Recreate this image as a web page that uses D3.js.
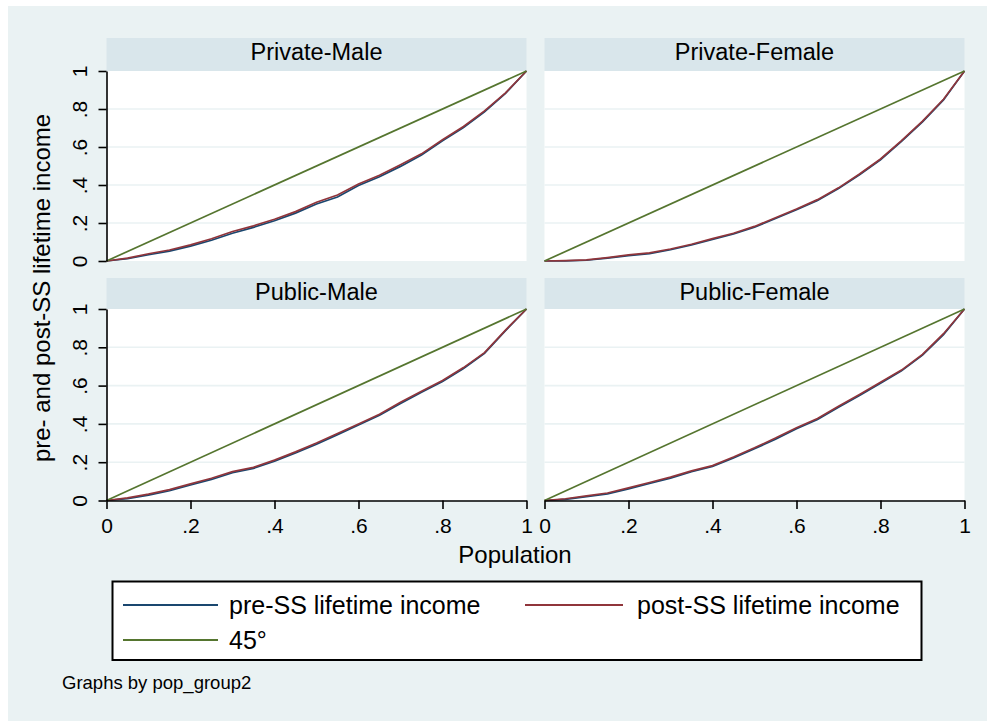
<!DOCTYPE html>
<html>
<head>
<meta charset="utf-8">
<script src="https://cdn.jsdelivr.net/npm/d3@7"></script>
<style>
  body { margin: 0; background: #fff; }
  svg { display: block; font-family: "Liberation Sans", Arial, sans-serif; }
</style>
</head>
<body>
<div id="chart"></div>
<script>
// cumulative population share (x) and income shares
var popShare = [0, .05, .1, .15, .2, .25, .3, .35, .4, .45, .5, .55, .6, .65, .7, .75, .8, .85, .9, .95, 1];

var privMalePre    = [0, .012, .033, .052, .078, .109, .146, .177, .212, .252, .300, .337, .397, .443, .498, .558, .633, .702, .785, .882, 1];
var privMalePost   = [0, .015, .038, .058, .085, .117, .155, .185, .220, .260, .309, .347, .405, .451, .507, .564, .638, .708, .790, .885, 1];
var privFemalePre  = [0, .001, .004, .015, .028, .039, .059, .084, .114, .142, .178, .224, .270, .319, .381, .454, .533, .630, .732, .848, 1];
var privFemalePost = [0, .002, .006, .018, .032, .043, .063, .088, .118, .146, .182, .228, .274, .323, .385, .458, .537, .634, .736, .851, 1];
var pubMalePre     = [0, .010, .028, .051, .081, .110, .145, .168, .205, .248, .294, .344, .394, .445, .507, .565, .622, .689, .768, .887, 1];
var pubMalePost    = [0, .014, .033, .057, .087, .116, .151, .173, .211, .254, .300, .350, .400, .450, .513, .570, .627, .694, .772, .890, 1];
var pubFemalePre   = [0, .006, .020, .035, .061, .089, .117, .150, .178, .222, .270, .320, .375, .423, .487, .548, .612, .677, .759, .866, 1];
var pubFemalePost  = [0, .009, .024, .039, .066, .094, .122, .155, .182, .227, .275, .326, .380, .428, .492, .553, .617, .681, .763, .871, 1];

var diagX = [0, 1];
var diagY = [0, 1];

var groups = ["Private-Male", "Private-Female", "Public-Male", "Public-Female"];
var preSeries = [privMalePre, privFemalePre, pubMalePre, pubFemalePre];
var postSeries = [privMalePost, privFemalePost, pubMalePost, pubFemalePost];

var yTicks = [0, .2, .4, .6, .8, 1];
var gridTicks = [.2, .4, .6, .8];

var legendLabels = ["pre-SS lifetime income", "post-SS lifetime income", "45\u00b0"];
var yTitle = "pre- and post-SS lifetime income";
var xTitle = "Population";
var note = "Graphs by pop_group2";

var w = 987, h = 721;
var colPre = "#1a476f", colPost = "#90353b", colDiag = "#55752f";
var bg = "#eaf2f3", strip = "#d9e6eb";

var cols = [[106.5, 526.5], [544.5, 964.5]];
var rows = [{head: 38, top: 71, bottom: 261}, {head: 278, top: 309, bottom: 500.5}];

function stataFmt(d) {
  if (d === 0) return "0";
  if (d === 1) return "1";
  return String(d).replace(/^0/, "");
}

var svg = d3.select("#chart").append("svg")
  .attr("width", w)
  .attr("height", h);

svg.append("rect")
  .attr("x", 8).attr("y", 6)
  .attr("width", w - 8).attr("height", h - 6)
  .attr("fill", bg);

groups.forEach(function(name, i) {
  var r = rows[Math.floor(i / 2)], c = cols[i % 2];
  var x = d3.scaleLinear().domain([0, 1]).range(c);
  var y = d3.scaleLinear().domain([0, 1]).range([r.bottom, r.top]);
  var g = svg.append("g").attr("class", "panel");

  // title strip
  g.append("rect")
    .attr("x", c[0]).attr("y", r.head)
    .attr("width", c[1] - c[0]).attr("height", r.top - r.head)
    .attr("fill", strip);
  g.append("text")
    .attr("x", (c[0] + c[1]) / 2)
    .attr("y", r.head + 22)
    .attr("text-anchor", "middle")
    .style("font-size", "23.5px")
    .text(name);

  g.append("rect")
    .attr("x", c[0]).attr("y", r.top)
    .attr("width", c[1] - c[0]).attr("height", r.bottom - r.top)
    .attr("fill", "#fff");

  g.selectAll("line.grid")
    .data(gridTicks)
    .enter().append("line")
    .attr("class", "grid")
    .attr("x1", c[0]).attr("x2", c[1])
    .attr("y1", function(d) { return y(d); })
    .attr("y2", function(d) { return y(d); })
    .attr("stroke", bg)
    .attr("stroke-width", 1.6);

  var line = d3.line()
    .x(function(d) { return x(d[0]); })
    .y(function(d) { return y(d[1]); });

  g.append("path")
    .datum(d3.zip(popShare, preSeries[i]))
    .attr("d", line)
    .attr("fill", "none")
    .attr("stroke", colPre)
    .attr("stroke-width", 1.7);
  g.append("path")
    .datum(d3.zip(popShare, postSeries[i]))
    .attr("d", line)
    .attr("fill", "none")
    .attr("stroke", colPost)
    .attr("stroke-width", 1.7);
  g.append("path")
    .datum(d3.zip(diagX, diagY))
    .attr("d", line)
    .attr("fill", "none")
    .attr("stroke", colDiag)
    .attr("stroke-width", 1.7);

  if (i % 2 === 0) {
    var ya = g.append("g")
      .attr("transform", "translate(" + c[0] + ",0)")
      .call(d3.axisLeft(y).tickValues(yTicks).tickFormat(stataFmt).tickSize(8).tickSizeOuter(0));
    ya.selectAll("text")
      .attr("transform", "rotate(-90)")
      .attr("x", 0)
      .attr("y", -19.5)
      .attr("dy", 0)
      .attr("text-anchor", "middle");
    styleAxis(ya);
  }
  if (i >= 2) {
    var xa = g.append("g")
      .attr("transform", "translate(0," + r.bottom + ")")
      .call(d3.axisBottom(x).tickValues(yTicks).tickFormat(stataFmt).tickSize(8.5).tickSizeOuter(0));
    xa.selectAll("text")
      .attr("y", 32.5)
      .attr("dy", 0);
    styleAxis(xa);
  }
});

function styleAxis(a) {
  a.select(".domain").attr("stroke", "#000").attr("stroke-width", 1.6);
  a.selectAll(".tick line").attr("stroke", "#000").attr("stroke-width", 1.6);
  a.selectAll("text").attr("fill", "#000").style("font-size", "21px").style("font-family", "inherit");
}

svg.append("text")
  .attr("transform", "translate(50,288) rotate(-90)")
  .attr("text-anchor", "middle")
  .style("font-size", "24px")
  .text(yTitle);

svg.append("text")
  .attr("x", 515)
  .attr("y", 563)
  .attr("text-anchor", "middle")
  .style("font-size", "24px")
  .text(xTitle);

// legend
var lg = svg.append("g");
lg.append("rect")
  .attr("x", 112.5).attr("y", 581.5)
  .attr("width", 809).attr("height", 78.5)
  .attr("fill", "#fff")
  .attr("stroke", "#000")
  .attr("stroke-width", 2);

var legendPos = [
  {x1: 123, x2: 218, tx: 229, ly: 605, ty: 614, col: colPre},
  {x1: 525, x2: 623, tx: 637, ly: 605, ty: 614, col: colPost},
  {x1: 123, x2: 218, tx: 229, ly: 640, ty: 649, col: colDiag}
];
legendLabels.forEach(function(lab, k) {
  var p = legendPos[k];
  lg.append("line")
    .attr("x1", p.x1).attr("x2", p.x2)
    .attr("y1", p.ly).attr("y2", p.ly)
    .attr("stroke", p.col)
    .attr("stroke-width", 2);
  lg.append("text")
    .attr("x", p.tx).attr("y", p.ty)
    .style("font-size", "25px")
    .text(lab);
});

svg.append("text")
  .attr("x", 62)
  .attr("y", 689)
  .style("font-size", "18.5px")
  .text(note);
</script>
</body>
</html>
